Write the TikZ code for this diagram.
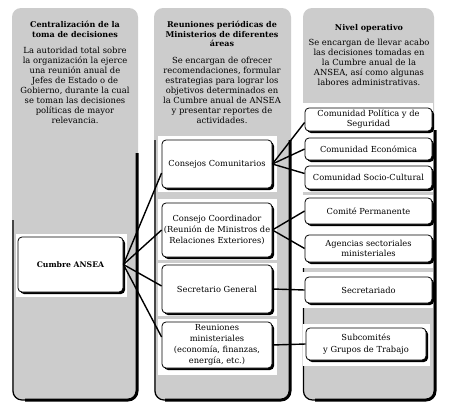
\documentclass[tikz,border=0pt]{standalone}
\usepackage{fontspec}
\setmainfont{DejaVu Serif}
\usetikzlibrary{shadows}
\definecolor{panelgray}{RGB}{204,204,204}
\begin{document}
\begin{tikzpicture}[x=1pt,y=-1pt,
  txt/.style={font=\fontsize{8.4}{10.1}\selectfont, align=center, inner sep=0pt},
  hdr/.style={font=\fontsize{8}{9.4}\selectfont\bfseries, align=center, inner sep=0pt},
  box/.style={draw=black, line width=0.8pt, fill=white, rounded corners=4pt, align=center,
    inner sep=1pt, font=\fontsize{8.3}{11}\selectfont,
    general shadow={fill=black, shadow xshift=2pt, shadow yshift=-2pt}},
  link/.style={line width=1.4pt},
  pad/.style={fill=white, draw=none},
  thinedge/.style={line width=1.2pt, rounded corners=9pt},
  thickedge/.style={line width=3pt, rounded corners=9pt},
  ]
\useasboundingbox (0,0) rectangle (451,410);
\fill[white] (0,0) rectangle (451,410);
% panels
\fill[panelgray, rounded corners=9pt] (12,8) rectangle (138,400);
\fill[panelgray, rounded corners=9pt] (154,8) rectangle (291,400);
\fill[panelgray, rounded corners=9pt] (303,8) rectangle (434,400);
% lower outlines
\draw[thinedge] (13,220) -- (13,400) -- (40,400);
\draw[thickedge] (25,400) -- (137,400) -- (137,153);
\draw[thinedge] (155,140) -- (155,400) -- (180,400);
\draw[thickedge] (165,400) -- (290,400) -- (290,140);
\draw[thinedge] (303.5,200) -- (303.5,400) -- (330,400);
\draw[thickedge] (315,400) -- (435,400) -- (435,130);
% white pads
\fill[pad] (16,234) rectangle (127,297);
\fill[pad] (158,136) rectangle (277,192);
\fill[pad] (158,199) rectangle (277,260);
\fill[pad] (158,263) rectangle (277,316);
\fill[pad] (158,319) rectangle (277,375);
\fill[pad] (301,103) rectangle (433,192);
\fill[pad] (301,195) rectangle (433,268);
\fill[pad] (301,272) rectangle (433,308);
\fill[pad] (303,324) rectangle (430,366);
% header texts
\node[hdr, anchor=north] (h1) at (75,21) {Centralización de la\\toma de decisiones};
\node[txt, anchor=north] (b1) at (75,46.5) {La autoridad total sobre\\la organización la ejerce\\una reunión anual de\\Jefes de Estado o de\\Gobierno, durante la cual\\se toman las decisiones\\políticas de mayor\\relevancia.};
\node[hdr, anchor=north] (h2) at (222,21) {Reuniones periódicas de\\Ministerios de diferentes\\áreas};
\node[txt, anchor=north] (b2) at (222,56.5) {Se encargan de ofrecer\\recomendaciones, formular\\estrategias para lograr los\\objetivos determinados en\\la Cumbre anual de ANSEA\\y presentar reportes de\\actividades.};
\node[hdr, anchor=north] (h3) at (369,24) {Nivel operativo};
\node[txt, anchor=north] (b3) at (369,38.5) {Se encargan de llevar acabo\\las decisiones tomadas en\\la Cumbre anual de la\\ANSEA, así como algunas\\labores administrativas.};
% boxes
\node[box, minimum width=105, minimum height=55, font=\fontsize{7.7}{11}\selectfont\bfseries] (cumbre) at (70.5,264.5) {Cumbre ANSEA};
\node[box, minimum width=110, minimum height=48] (cc) at (217,164) {Consejos Comunitarios};
\node[box, minimum width=110, minimum height=54, font=\fontsize{8.3}{10.8}\selectfont] (ccoord) at (217,230) {Consejo Coordinador\\(Reunión de Ministros de\\Relaciones Exteriores)};
\node[box, minimum width=110, minimum height=48] (sg) at (217,289) {Secretario General};
\node[box, minimum width=110, minimum height=46, font=\fontsize{8.3}{10.8}\selectfont] (rm) at (217,345) {Reuniones\\ministeriales\\(economía, finanzas,\\energía, etc.)};
\node[box, minimum width=127, minimum height=23, font=\fontsize{8.3}{9.8}\selectfont] (cps) at (368.5,119.5) {Comunidad Política y de\\Seguridad};
\node[box, minimum width=127, minimum height=22] (ce) at (368.5,149) {Comunidad Económica};
\node[box, minimum width=127, minimum height=23] (csc) at (368.5,177.5) {Comunidad Socio-Cultural};
\node[box, minimum width=127, minimum height=26] (cp) at (368.5,211) {Comité Permanente};
\node[box, minimum width=127, minimum height=27, font=\fontsize{8.3}{9.8}\selectfont] (asm) at (368.5,248.5) {Agencias sectoriales\\ministeriales};
\node[box, minimum width=127, minimum height=26] (sec) at (368.5,290) {Secretariado};
\node[box, minimum width=120, minimum height=32, font=\fontsize{8.3}{11.5}\selectfont] (sgt) at (366,344) {Subcomités\\y Grupos de Trabajo};
% connectors
\draw[link] (cumbre.east) -- ([yshift=-9pt]cc.west);
\draw[link] (cumbre.east) -- (ccoord.west);
\draw[link] (cumbre.east) -- ([yshift=3pt]sg.west);
\draw[link] (cumbre.east) -- ([yshift=8pt]rm.west);
\draw[link] (cc.east) -- ([yshift=-3pt]cps.west);
\draw[link] (cc.east) -- (ce.west);
\draw[link] (cc.east) -- ([yshift=4pt]csc.west);
\draw[link] (ccoord.east) -- (cp.west);
\draw[link] (ccoord.east) -- (asm.west);
\draw[link] (sg.east) -- (sec.west);
\draw[link] (rm.east) -- (sgt.west);
\end{tikzpicture}
\end{document}
